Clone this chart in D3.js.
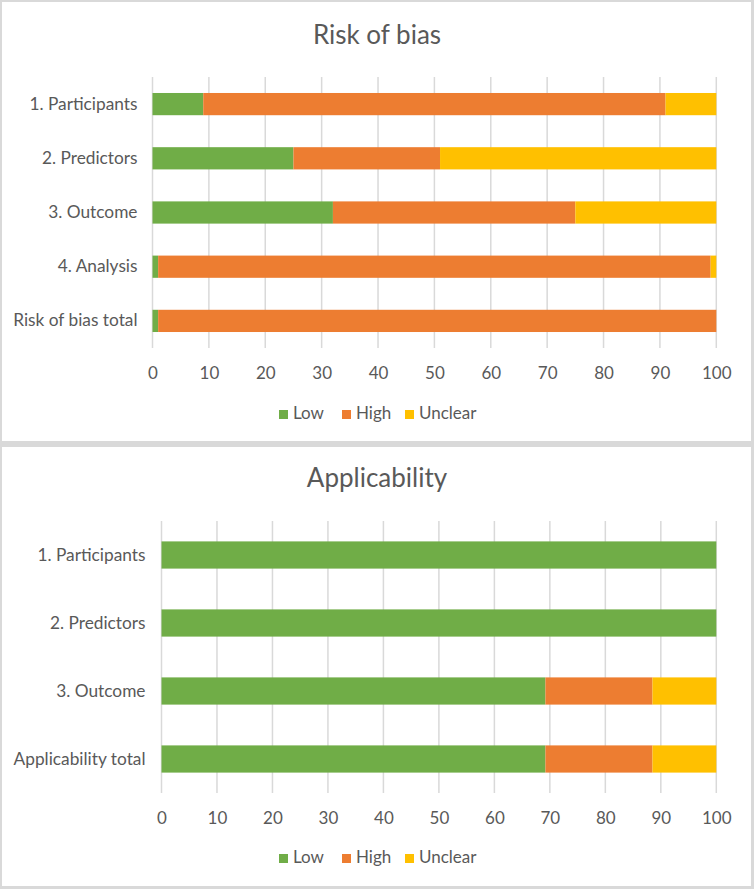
<!DOCTYPE html>
<html><head><meta charset="utf-8">
<script src="https://cdn.jsdelivr.net/npm/d3@7"></script>
<style>
html,body{margin:0;padding:0;background:#d9d9d9;}
svg{display:block;}
text{font-family:Lato,"Open Sans",sans-serif;fill:#595959;}
</style></head><body>
<svg id="c" width="754" height="889"></svg>
<script>
const seriesNames = ["Low","High","Unclear"];
const colors = ["#70AD47","#ED7D31","#FFC000"];
const xTicks = [0,10,20,30,40,50,60,70,80,90,100];

const riskCategories = ["1. Participants","2. Predictors","3. Outcome","4. Analysis","Risk of bias total"];
const riskLow     = [9, 25, 32, 1, 1];
const riskHigh    = [82, 26, 43, 98, 99];
const riskUnclear = [9, 49, 25, 1, 0];

const applCategories = ["1. Participants","2. Predictors","3. Outcome","Applicability total"];
const applLow     = [100, 100, 69.2, 69.2];
const applHigh    = [0, 0, 19.3, 19.3];
const applUnclear = [0, 0, 11.5, 11.5];

const svg = d3.select("#c");

function panel(o){
  const g = svg.append("g");
  g.append("rect").attr("x",o.px).attr("y",o.py).attr("width",o.pw).attr("height",o.ph)
    .attr("fill","#fff").attr("stroke","#d9d9d9").attr("stroke-width",1);
  g.append("text").attr("x",377).attr("y",o.titleY).attr("text-anchor","middle")
    .attr("dominant-baseline","middle").style("font-size","26px").text(o.title);

  const x = d3.scaleLinear().domain([0,100]).range([o.x0,o.x1]);
  const y = d3.scaleBand().domain(o.cats).range([o.y0,o.y1]).paddingInner(o.pad).paddingOuter(o.pad/2);

  // gridlines
  g.append("g").selectAll("line").data(xTicks).join("line")
    .attr("x1",d=>x(d)).attr("x2",d=>x(d)).attr("y1",o.y0).attr("y2",o.y1)
    .attr("stroke","#d9d9d9").attr("stroke-width",1.5);

  // bars
  const rows = o.cats.map((c,i)=>({c, v:[o.low[i],o.high[i],o.unc[i]]}));
  rows.forEach(r=>{
    let acc=0;
    r.v.forEach((v,k)=>{
      if(v>0){
        g.append("rect").attr("x",x(acc)).attr("y",y(r.c)).attr("width",x(acc+v)-x(acc))
          .attr("height",y.bandwidth()).attr("fill",colors[k]);
      }
      acc+=v;
    });
  });

  // y labels
  const ya = g.append("g").attr("transform",`translate(${o.x0},0)`)
    .call(d3.axisLeft(y).tickSize(0).tickPadding(o.labelPad));
  ya.select(".domain").remove();
  ya.selectAll("text").style("font-size","17.3px").style("font-family","Lato,'Open Sans',sans-serif").attr("fill","#595959");

  // x axis tick labels
  const xa = g.append("g").attr("transform",`translate(0,${o.y1})`)
    .call(d3.axisBottom(x).tickValues(xTicks).tickSize(0).tickPadding(19));
  xa.select(".domain").remove();
  xa.selectAll("text").style("font-size","17px").style("font-family","Lato,'Open Sans',sans-serif").attr("fill","#595959");

  // legend
  const lg = g.append("g");
  const items = [{x:279,tx:293},{x:342,tx:356},{x:405,tx:419}];
  seriesNames.forEach((s,k)=>{
    lg.append("rect").attr("x",items[k].x).attr("y",o.legY-5).attr("width",9).attr("height",9).attr("fill",colors[k]);
    lg.append("text").attr("x",items[k].tx).attr("y",o.legY).attr("dominant-baseline","middle")
      .style("font-size","17px").text(s);
  });
}

panel({px:1.5,py:1.5,pw:750,ph:440,title:"Risk of bias",titleY:37,
  x0:152.5,x1:716.3,y0:77,y1:348,pad:0.59,labelPad:15,
  cats:riskCategories,low:riskLow,high:riskHigh,unc:riskUnclear,legY:415});
panel({px:1.5,py:446.5,pw:750,ph:440,title:"Applicability",titleY:480,
  x0:161.5,x1:716.3,y0:521,y1:793,pad:0.6,labelPad:16,
  cats:applCategories,low:applLow,high:applHigh,unc:applUnclear,legY:859});
</script>
</body></html>
